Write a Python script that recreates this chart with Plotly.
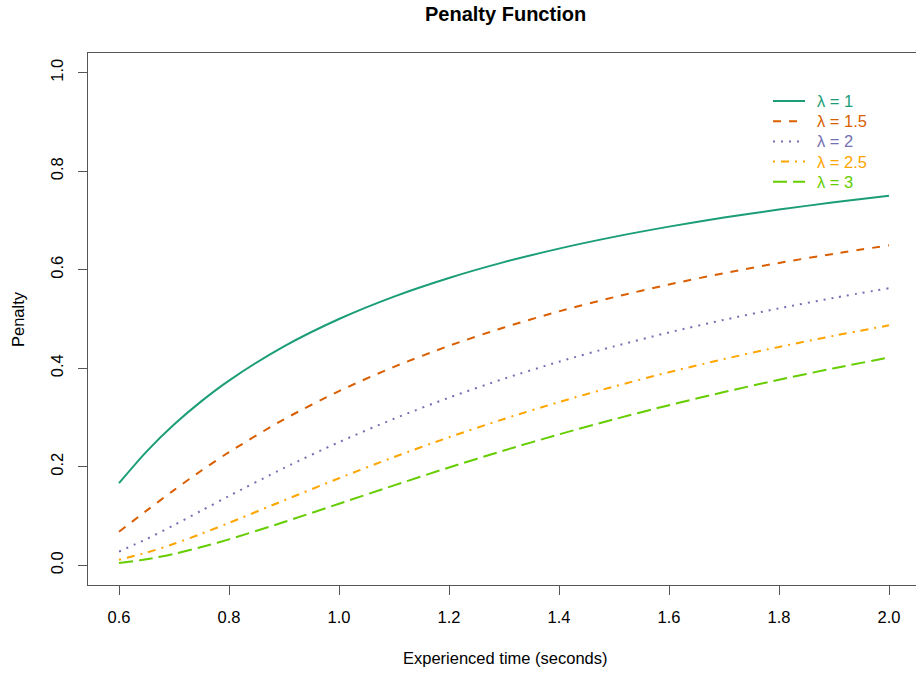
import plotly.graph_objects as go

time_s = [0.6, 0.65, 0.7, 0.75, 0.8, 0.9, 1.0, 1.1, 1.2, 1.3, 1.4, 1.5, 1.6, 1.7, 1.8, 1.9, 2.0]

pen_l1 = [0.1667, 0.2308, 0.2857, 0.3333, 0.3750, 0.4444, 0.5000, 0.5455, 0.5833, 0.6154, 0.6429, 0.6667, 0.6875, 0.7059, 0.7222, 0.7368, 0.7500]
pen_l15 = [0.0680, 0.1109, 0.1527, 0.1925, 0.2296, 0.2963, 0.3536, 0.4029, 0.4455, 0.4828, 0.5155, 0.5443, 0.5701, 0.5931, 0.6138, 0.6325, 0.6495]
pen_l2 = [0.0278, 0.0533, 0.0816, 0.1111, 0.1406, 0.1975, 0.2500, 0.2975, 0.3403, 0.3787, 0.4133, 0.4444, 0.4727, 0.4983, 0.5216, 0.5429, 0.5625]
pen_l25 = [0.0113, 0.0256, 0.0436, 0.0642, 0.0861, 0.1317, 0.1768, 0.2197, 0.2599, 0.2971, 0.3314, 0.3629, 0.3920, 0.4187, 0.4433, 0.4660, 0.4871]
pen_l3 = [0.0046, 0.0123, 0.0233, 0.0370, 0.0527, 0.0878, 0.1250, 0.1623, 0.1985, 0.2331, 0.2657, 0.2963, 0.3250, 0.3517, 0.3767, 0.4000, 0.4219]

labels = ["λ = 1", "λ = 1.5", "λ = 2", "λ = 2.5", "λ = 3"]
colors = ["#1B9E77", "#D95F02", "#7570B3", "#FFA500", "#66CD00"]
dashes = ["solid", "8px,8px", "2px,6px", "2px,6px,8px,6px", "14px,6px"]
series = [pen_l1, pen_l15, pen_l2, pen_l25, pen_l3]

x_ticks = [0.6, 0.8, 1.0, 1.2, 1.4, 1.6, 1.8, 2.0]
y_ticks = [0.0, 0.2, 0.4, 0.6, 0.8, 1.0]

W, H = 916, 673
L, R, T, B = 88, 0, 53, 88
pw = W - L - R
ph = H - T - B

FONT = "Liberation Sans, Arial, sans-serif"
axis_font = dict(family=FONT, size=16.5, color="#000000")

fig = go.Figure()
for lab, col, dsh, ys in zip(labels, colors, dashes, series):
    fig.add_trace(go.Scatter(
        x=time_s, y=ys, mode="lines", showlegend=False,
        line=dict(color=col, width=2, dash=dsh, shape="spline", smoothing=0.8),
        name=lab,
    ))

def px_x(p):
    return (p - L) / pw

def px_y(p):
    return 1 - (p - T) / ph

shapes = []
annotations = []
# manual legend (top right, no box)
for i, (lab, col, dsh) in enumerate(zip(labels, colors, dashes)):
    yy = px_y(101 + 20.2 * i)
    shapes.append(dict(type="line", xref="paper", yref="paper",
                       x0=px_x(773), x1=px_x(805), y0=yy, y1=yy,
                       line=dict(color=col, width=2, dash=dsh)))
    annotations.append(dict(text=lab, xref="paper", yref="paper",
                            x=px_x(815), y=yy, xanchor="left", yanchor="middle",
                            showarrow=False,
                            font=dict(family=FONT, size=16.5, color=col)))

annotations += [
    dict(text="<b>Penalty Function</b>", xref="paper", yref="paper",
         x=px_x(505), y=px_y(14), xanchor="center", yanchor="middle", showarrow=False,
         font=dict(family=FONT, size=20, color="#000000")),
    dict(text="Experienced time (seconds)", xref="paper", yref="paper",
         x=px_x(505), y=px_y(658), xanchor="center", yanchor="middle", showarrow=False,
         font=axis_font),
    dict(text="Penalty", xref="paper", yref="paper", textangle=-90,
         x=px_x(18), y=px_y(319), xanchor="center", yanchor="middle", showarrow=False,
         font=axis_font),
]

fig.update_layout(
    width=W, height=H,
    margin=dict(l=L, r=R, t=T, b=B),
    paper_bgcolor="white", plot_bgcolor="white",
    showlegend=False,
    shapes=shapes,
    annotations=annotations,
    xaxis=dict(
        range=[0.6 - 31 / 550, 0.6 - 31 / 550 + pw / 550],
        tickvals=x_ticks,
        ticktext=[f"{v:.1f}" for v in x_ticks],
        ticks="outside", ticklen=9, tickcolor="#555555", tickwidth=1,
        ticklabelstandoff=8,
        showline=True, linecolor="#555555", linewidth=1, mirror=True,
        showgrid=False, zeroline=False,
        tickfont=axis_font,
    ),
    yaxis=dict(
        range=[-0.04, 1.04],
        tickvals=y_ticks,
        ticktext=[f"{v:.1f}" for v in y_ticks],
        tickangle=-90,
        ticks="outside", ticklen=9, tickcolor="#555555", tickwidth=1,
        ticklabelstandoff=8,
        showline=True, linecolor="#555555", linewidth=1, mirror=False,
        showgrid=False, zeroline=False,
        tickfont=axis_font,
    ),
)

fig.write_html("out.html")
